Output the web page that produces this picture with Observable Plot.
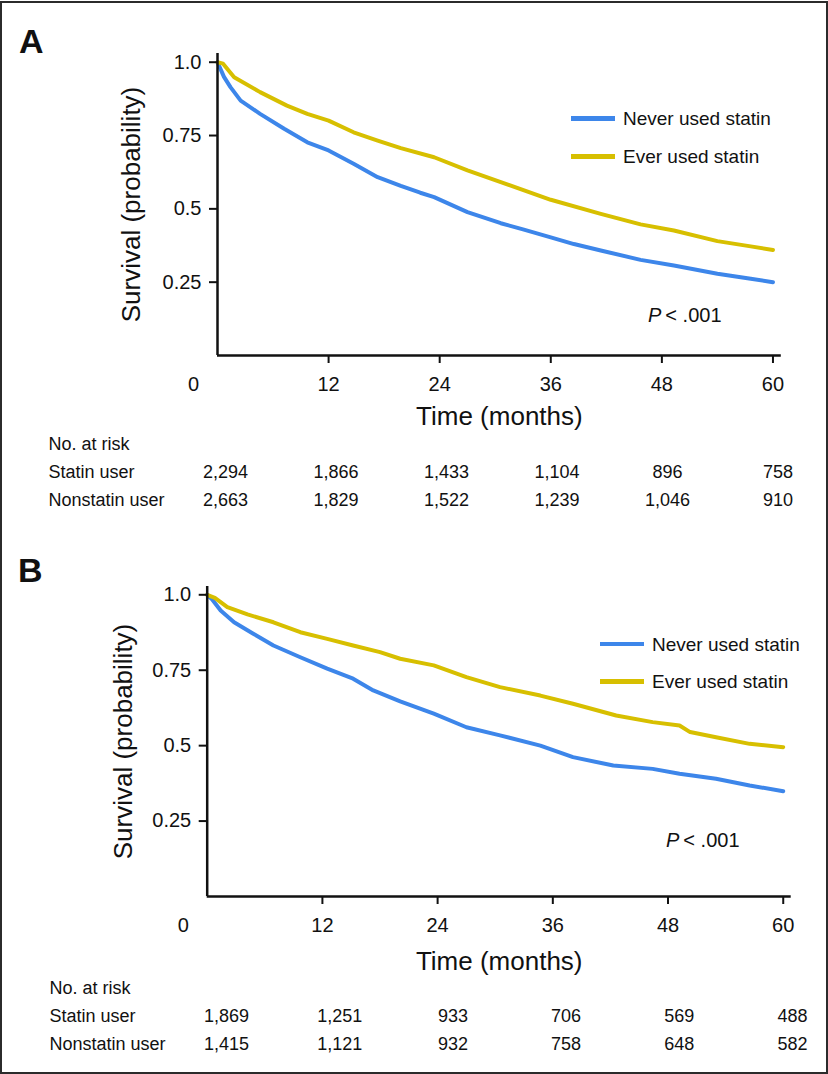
<!DOCTYPE html>
<html>
<head>
<meta charset="utf-8">
<script src="https://cdn.jsdelivr.net/npm/d3@7"></script>
<script src="https://cdn.jsdelivr.net/npm/@observablehq/plot@0.6"></script>
<style>
  body { margin: 0; background: #fff; font-family: "Liberation Sans", Arial, sans-serif; color: #111; }
  #fig { position: relative; width: 828px; height: 1074px; overflow: hidden; background: #fff; }
  .abs { position: absolute; }
  .frame { left: 0; top: 1px; width: 828px; height: 1073px; box-sizing: border-box; border: 2px solid #2b2b2b; }
  .letter { font-weight: bold; font-size: 34px; line-height: 34px; }
  .leg { font-size: 19px; line-height: 19px; white-space: nowrap; }
  .pval { font-size: 20px; line-height: 20px; white-space: nowrap; }
  svg { background: transparent !important; }
</style>
</head>
<body>
<div id="fig"></div>
<script>
// ---------------- data ----------------
const seriesNames = ["Never used statin", "Ever used statin"];
const seriesColors = ["#3d86ea", "#d7bf00"];
const xTicks = [0, 12, 24, 36, 48, 60];
const yTicks = [0.25, 0.5, 0.75, 1.0];
const yTickLabels = ["0.25", "0.5", "0.75", "1.0"];
const xLabel = "Time (months)";
const yLabel = "Survival (probability)";
const riskHeader = "No. at risk";
const riskRows = ["Statin user", "Nonstatin user"];
const pText = "< .001";

// Panel A curves
const tA_never = [0, 0.7, 1.4, 2.5, 4.6, 7.2, 9.7, 12, 14.7, 17.3, 19.8, 21.9, 23.4, 27, 30.6, 33, 36, 38.5, 41.4, 45.7, 49.3, 54, 57.6, 60];
const sA_never = [1, 0.95, 0.915, 0.869, 0.824, 0.773, 0.727, 0.699, 0.654, 0.608, 0.578, 0.555, 0.54, 0.489, 0.451, 0.43, 0.403, 0.38, 0.358, 0.326, 0.307, 0.279, 0.262, 0.25];
const tA_ever = [0, 0.6, 1.8, 4.6, 7.5, 9.7, 12, 14.7, 17.3, 19.8, 23.4, 27, 30.6, 36, 41.4, 45.7, 49.3, 54, 57.6, 60];
const sA_ever = [1, 0.995, 0.949, 0.898, 0.852, 0.824, 0.801, 0.761, 0.733, 0.707, 0.676, 0.631, 0.591, 0.531, 0.483, 0.447, 0.426, 0.39, 0.372, 0.36];
// Panel A risk table
const riskA_statin = [2294, 1866, 1433, 1104, 896, 758];
const riskA_nonstatin = [2663, 1829, 1522, 1239, 1046, 910];

// Panel B curves
const tB_never = [0, 0.5, 1.4, 2.8, 4.8, 6.9, 9.7, 12.5, 15.2, 17.3, 20.1, 23.6, 27, 30.5, 34.7, 38.1, 42.3, 46.4, 49.2, 53, 56.5, 60];
const sB_never = [1, 0.985, 0.948, 0.909, 0.871, 0.832, 0.793, 0.755, 0.722, 0.683, 0.647, 0.606, 0.561, 0.534, 0.5, 0.462, 0.434, 0.423, 0.407, 0.39, 0.368, 0.349];
const tB_ever = [0, 0.8, 2.1, 4.2, 6.9, 9.7, 12.5, 15.2, 18, 20.1, 23.6, 27, 30.5, 34.7, 38.1, 42.6, 46.4, 49.2, 50.3, 53, 56.5, 60];
const sB_ever = [1, 0.99, 0.959, 0.935, 0.909, 0.876, 0.854, 0.832, 0.81, 0.788, 0.766, 0.727, 0.694, 0.666, 0.639, 0.6, 0.578, 0.567, 0.545, 0.528, 0.506, 0.495];
// Panel B risk table
const riskB_statin = [1869, 1251, 933, 706, 569, 488];
const riskB_nonstatin = [1415, 1121, 932, 758, 648, 582];

// ---------------- drawing ----------------
const FONT = "Liberation Sans, Arial, sans-serif";
const INK = "#111";
const fig = document.getElementById("fig");
const yLabelMap = new Map(yTicks.map((v, i) => [v, yTickLabels[i]]));

function place(el, left, top) {
  el.classList.add("abs");
  el.style.left = left + "px";
  el.style.top = top + "px";
  fig.appendChild(el);
  return el;
}

function curvePlot(cfg) {
  const data = [];
  cfg.series.forEach((s, k) => s.t.forEach((t, i) => data.push({t, s: s.S[i], name: seriesNames[k]})));
  return Plot.plot({
    width: 828, height: cfg.height,
    marginTop: cfg.mt, marginBottom: cfg.mb, marginLeft: cfg.ml, marginRight: cfg.mr,
    style: {fontFamily: FONT, fontSize: "20px", color: INK, background: "transparent", overflow: "visible"},
    x: {domain: [0, cfg.xMax], axis: null},
    y: {domain: [0, cfg.yMax], axis: null},
    color: {domain: seriesNames, range: seriesColors},
    marks: [
      Plot.line(data, {x: "t", y: "s", z: "name", stroke: "name", strokeWidth: 4, strokeLinejoin: "round", strokeLinecap: "round"}),
      Plot.ruleX([0], {stroke: INK, strokeWidth: 2.5}),
      Plot.ruleY([0], {stroke: INK, strokeWidth: 2.5}),
      Plot.axisX({ticks: xTicks.slice(1), tickSize: 8, tickPadding: 13, strokeWidth: 2, fontSize: 20, label: null, tickFormat: d => String(d)}),
      Plot.text([xTicks[0]], {x: d => d, text: d => String(d), frameAnchor: "bottom", textAnchor: "middle", lineAnchor: "top", dy: 21, dx: -24, fontSize: 20}),
      Plot.axisY({ticks: yTicks, tickSize: 8, tickPadding: 8, strokeWidth: 2, fontSize: 20, label: null, tickFormat: d => yLabelMap.get(d)}),
      Plot.text([yLabel], {text: d => d, frameAnchor: "left", textAnchor: "middle", lineAnchor: "middle", rotate: -90, dx: cfg.yLabelDx, fontSize: 26}),
      Plot.text([xLabel], {text: d => d, frameAnchor: "bottom", textAnchor: "middle", lineAnchor: "middle", dy: cfg.xLabelDy, fontSize: 26})
    ]
  });
}

function riskPlot(cfg) {
  const cells = [];
  cfg.rows.forEach((vals, r) => vals.forEach((n, i) => cells.push({t: xTicks[i], row: riskRows[r], n})));
  const labels = [riskHeader, ...riskRows];
  return Plot.plot({
    width: 828, height: 80, marginTop: 10, marginBottom: 14, marginLeft: cfg.ml, marginRight: cfg.mr,
    style: {fontFamily: FONT, fontSize: "18px", color: INK, background: "transparent", overflow: "visible"},
    x: {domain: [0, 60], axis: null},
    y: {type: "point", domain: labels, padding: 0, axis: null},
    marks: [
      Plot.text(cells, {x: "t", y: "row", text: d => d3.format(",")(d.n), fontSize: 18}),
      Plot.text(labels, {y: d => d, text: d => d, frameAnchor: "left", textAnchor: "start", dx: cfg.labelDx, fontSize: 18})
    ]
  });
}

function legend(left, top, gap) {
  seriesNames.forEach((name, i) => {
    const cy = top + i * gap;
    const sw = document.createElement("div");
    sw.style.width = "44px"; sw.style.height = "4.5px"; sw.style.background = seriesColors[i];
    place(sw, left, cy - 2.25);
    const tx = document.createElement("div");
    tx.className = "leg"; tx.textContent = name;
    place(tx, left + 52, cy - 9.5);
  });
}

function pLabel(left, cy) {
  const d = document.createElement("div");
  d.className = "pval";
  d.innerHTML = "<i>P</i>&#8201;" + pText;
  place(d, left, cy - 10);
}

function letter(t, left, top) {
  const d = document.createElement("div");
  d.className = "letter"; d.textContent = t;
  place(d, left, top);
}

// Panel A
place(curvePlot({
  height: 432, mt: 53, mb: 77, ml: 217, mr: 47.2, xMax: 60.9, yMax: 1.0297,
  series: [{t: tA_never, S: sA_never}, {t: tA_ever, S: sA_ever}],
  yLabelDx: -86, xLabelDy: 61
}), 0, 0);
place(riskPlot({rows: [riskA_statin, riskA_nonstatin], ml: 225, mr: 50.5, labelDx: -177}), 0, 434);
legend(571, 118.3, 38.4);
pLabel(648, 315);
letter("A", 19, 24);

// Panel B
place(curvePlot({
  height: 506, mt: 116, mb: 80, ml: 206.7, mr: 37.3, xMax: 60.83, yMax: 1.0275,
  series: [{t: tB_never, S: sB_never}, {t: tB_ever, S: sB_ever}],
  yLabelDx: -84, xLabelDy: 65
}), 0, 470);
place(riskPlot({rows: [riskB_statin, riskB_nonstatin], ml: 226, mr: 36, labelDx: -177}), 0, 978);
legend(600, 644, 37.7);
pLabel(666, 840);
letter("B", 18, 553);

// outer frame
const fr = document.createElement("div");
fr.className = "frame abs";
fig.appendChild(fr);
</script>
</body>
</html>
